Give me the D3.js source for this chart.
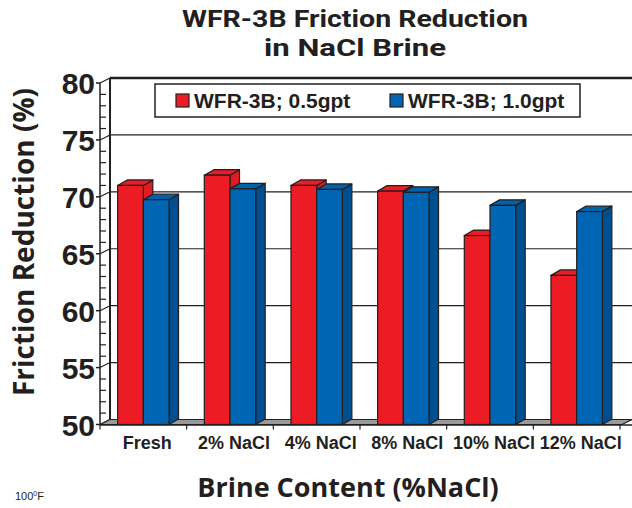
<!DOCTYPE html>
<html>
<head>
<meta charset="utf-8">
<script src="https://cdn.jsdelivr.net/npm/d3@7"></script>
<style>
  body { margin: 0; background: #fff; }
  svg { display: block; }
</style>
</head>
<body>
<div class="chart"></div>
<script>
const categories = ["Fresh", "2% NaCl", "4% NaCl", "8% NaCl", "10% NaCl", "12% NaCl"];
const seriesNames = ["WFR-3B; 0.5gpt", "WFR-3B; 1.0gpt"];
const lowDose = [71.0, 71.9, 71.0, 70.5, 66.6, 63.1];
const highDose = [69.75, 70.7, 70.65, 70.4, 69.25, 68.7];
const yTicks = [50, 55, 60, 65, 70, 75, 80];

let svgW = 632,
    svgH = 508,
    frontLeft = 100,
    frontRight = 620,
    depthX = 10,
    depthY = -5,
    barDX = 9.5,
    barDY = -5.5,
    ink = "#231f20";

const fills = [
    {front: "#ed1c24", top: "#ed1c24", side: "#e11b22"},
    {front: "#0066b3", top: "#0062ab", side: "#004f91"}
];

const svg = d3.select(".chart")
    .append("svg")
    .attr("width", svgW)
    .attr("height", svgH);

const y = d3.scaleLinear().domain([50, 80]).range([424.5, 83]);
const x0 = d3.scaleBand().domain(categories).range([frontLeft, frontRight])
    .paddingInner(0.407).paddingOuter(0.2035);
const x1 = d3.scaleBand().domain([0, 1]).range([0, x0.bandwidth()]);

// back wall gridlines
svg.selectAll("line.grid")
    .data(yTicks.filter(t => t > 50 && t < 80))
    .enter()
    .append("line")
    .attr("x1", frontLeft + depthX)
    .attr("x2", svgW)
    .attr("y1", d => y(d) + depthY)
    .attr("y2", d => y(d) + depthY)
    .attr("stroke", ink)
    .attr("stroke-width", 1.2);

// top line of back wall
svg.append("line")
    .attr("x1", frontLeft + depthX).attr("x2", svgW)
    .attr("y1", y(80) + depthY).attr("y2", y(80) + depthY)
    .attr("stroke", ink).attr("stroke-width", 2.5);

// left wall: back edge, front axis
svg.append("line")
    .attr("x1", frontLeft + depthX).attr("x2", frontLeft + depthX)
    .attr("y1", y(80) + depthY).attr("y2", y(50) + depthY)
    .attr("stroke", ink).attr("stroke-width", 2);
svg.append("line")
    .attr("x1", frontLeft).attr("x2", frontLeft)
    .attr("y1", y(80)).attr("y2", y(50))
    .attr("stroke", ink).attr("stroke-width", 1.5);

// minor ticks on the left wall
svg.selectAll("line.minor")
    .data(d3.range(51, 80).filter(v => v % 5 !== 0))
    .enter()
    .append("line")
    .attr("x1", frontLeft)
    .attr("x2", frontLeft + 6)
    .attr("y1", d => y(d))
    .attr("y2", d => y(d))
    .attr("stroke", ink)
    .attr("stroke-width", 1.2);

// major ticks and their diagonals to the back wall
yTicks.forEach(t => {
    svg.append("line")
        .attr("x1", frontLeft - 4).attr("x2", frontLeft)
        .attr("y1", y(t)).attr("y2", y(t))
        .attr("stroke", ink).attr("stroke-width", 1.5);
    svg.append("line")
        .attr("x1", frontLeft).attr("x2", frontLeft + depthX)
        .attr("y1", y(t)).attr("y2", y(t) + depthY)
        .attr("stroke", ink).attr("stroke-width", 1.2);
});

svg.selectAll("text.ytick")
    .data(yTicks)
    .enter()
    .append("text")
    .attr("x", 95)
    .attr("y", d => y(d) + 11)
    .attr("text-anchor", "end")
    .attr("font-family", "Liberation Sans, Arial, sans-serif")
    .attr("font-weight", "bold")
    .attr("font-size", 30)
    .attr("fill", ink)
    .text(d => d);

// floor
const fy = y(50);
svg.append("polygon")
    .attr("points", [
        [frontLeft, fy], [frontRight + 2, fy],
        [svgW, fy + depthY], [frontLeft + depthX, fy + depthY]
    ].map(p => p.join(",")).join(" "))
    .attr("fill", "#9a9a9a")
    .attr("stroke", ink)
    .attr("stroke-width", 1.2);
svg.append("line")
    .attr("x1", frontLeft).attr("x2", svgW)
    .attr("y1", fy + 0.5).attr("y2", fy + 0.5)
    .attr("stroke", ink).attr("stroke-width", 1.5);

// category ticks on the floor front edge
svg.selectAll("line.xtick")
    .data(d3.range(categories.length + 1))
    .enter()
    .append("line")
    .attr("x1", i => frontLeft + i * x0.step())
    .attr("x2", i => frontLeft + i * x0.step())
    .attr("y1", fy)
    .attr("y2", fy + 5)
    .attr("stroke", ink)
    .attr("stroke-width", 1.2);

// 3D bars
const barData = [];
categories.forEach((c, i) => {
    [lowDose[i], highDose[i]].forEach((v, s) => barData.push({cat: c, s: s, v: v}));
});

const bars = svg.selectAll("g.bar")
    .data(barData)
    .enter()
    .append("g")
    .attr("class", "bar");

bars.each(function (d) {
    const g = d3.select(this);
    const xl = x0(d.cat) + x1(d.s);
    const xr = xl + x1.bandwidth();
    const yt = y(d.v);
    const yb = fy;
    const pts = arr => arr.map(p => p.join(",")).join(" ");
    g.append("polygon")
        .attr("points", pts([[xr, yt], [xr + barDX, yt + barDY], [xr + barDX, yb + barDY], [xr, yb]]))
        .attr("fill", fills[d.s].side)
        .attr("stroke", ink).attr("stroke-width", 1.2).attr("stroke-linejoin", "round");
    g.append("polygon")
        .attr("points", pts([[xl, yt], [xl + barDX, yt + barDY], [xr + barDX, yt + barDY], [xr, yt]]))
        .attr("fill", fills[d.s].top)
        .attr("stroke", ink).attr("stroke-width", 1.2).attr("stroke-linejoin", "round");
    g.append("rect")
        .attr("x", xl).attr("y", yt)
        .attr("width", xr - xl).attr("height", yb - yt)
        .attr("fill", fills[d.s].front)
        .attr("stroke", ink).attr("stroke-width", 1.2);
});

// category labels
svg.selectAll("text.xlab")
    .data(categories)
    .enter()
    .append("text")
    .attr("x", d => x0(d) + x0.bandwidth() / 2 + 4)
    .attr("y", 449)
    .attr("text-anchor", "middle")
    .attr("font-family", "Liberation Sans, Arial, sans-serif")
    .attr("font-weight", "bold")
    .attr("font-size", 18)
    .attr("fill", ink)
    .text(d => d);

// legend
svg.append("rect")
    .attr("x", 155).attr("y", 84)
    .attr("width", 425).attr("height", 33)
    .attr("fill", "#fff")
    .attr("stroke", ink).attr("stroke-width", 1.5);

const legendX = [176, 390];
seriesNames.forEach((name, s) => {
    svg.append("rect")
        .attr("x", legendX[s]).attr("y", 94)
        .attr("width", 13).attr("height", 13)
        .attr("fill", fills[s].front)
        .attr("stroke", ink).attr("stroke-width", 1.2);
    svg.append("text")
        .attr("x", legendX[s] + 18).attr("y", 108)
        .attr("font-family", "Liberation Sans, Arial, sans-serif")
        .attr("font-weight", "bold")
        .attr("font-size", 21)
        .attr("fill", ink)
        .text(name);
});

// titles
const titleFont = "Open Sans, Noto Sans, sans-serif";
svg.append("text")
    .attr("x", 355).attr("y", 27)
    .attr("text-anchor", "middle")
    .attr("font-family", "Roboto, sans-serif")
    .attr("font-weight", "bold")
    .attr("font-size", 24)
    .attr("textLength", 346)
    .attr("lengthAdjust", "spacingAndGlyphs")
    .attr("fill", ink)
    .text("WFR-3B Friction Reduction");
svg.append("text")
    .attr("x", 355).attr("y", 56)
    .attr("text-anchor", "middle")
    .attr("font-family", "Roboto, sans-serif")
    .attr("font-weight", "bold")
    .attr("font-size", 24)
    .attr("textLength", 182)
    .attr("lengthAdjust", "spacingAndGlyphs")
    .attr("fill", ink)
    .text("in NaCl Brine");

svg.append("text")
    .attr("transform", "translate(34,242) rotate(-90)")
    .attr("text-anchor", "middle")
    .attr("font-family", titleFont)
    .attr("font-weight", "bold")
    .attr("font-size", 28)
    .attr("fill", ink)
    .text("Friction Reduction (%)");

svg.append("text")
    .attr("x", 348).attr("y", 497)
    .attr("text-anchor", "middle")
    .attr("font-family", titleFont)
    .attr("font-weight", "bold")
    .attr("font-size", 27)
    .attr("fill", ink)
    .text("Brine Content (%NaCl)");

const note = svg.append("text")
    .attr("x", 15).attr("y", 500)
    .attr("font-family", "Liberation Sans, Arial, sans-serif")
    .attr("font-size", 11)
    .attr("fill", ink);
note.append("tspan").text("100");
note.append("tspan").attr("font-size", 7).attr("dy", -4).text("0");
note.append("tspan").attr("dy", 4).text("F");
</script>
</body>
</html>
